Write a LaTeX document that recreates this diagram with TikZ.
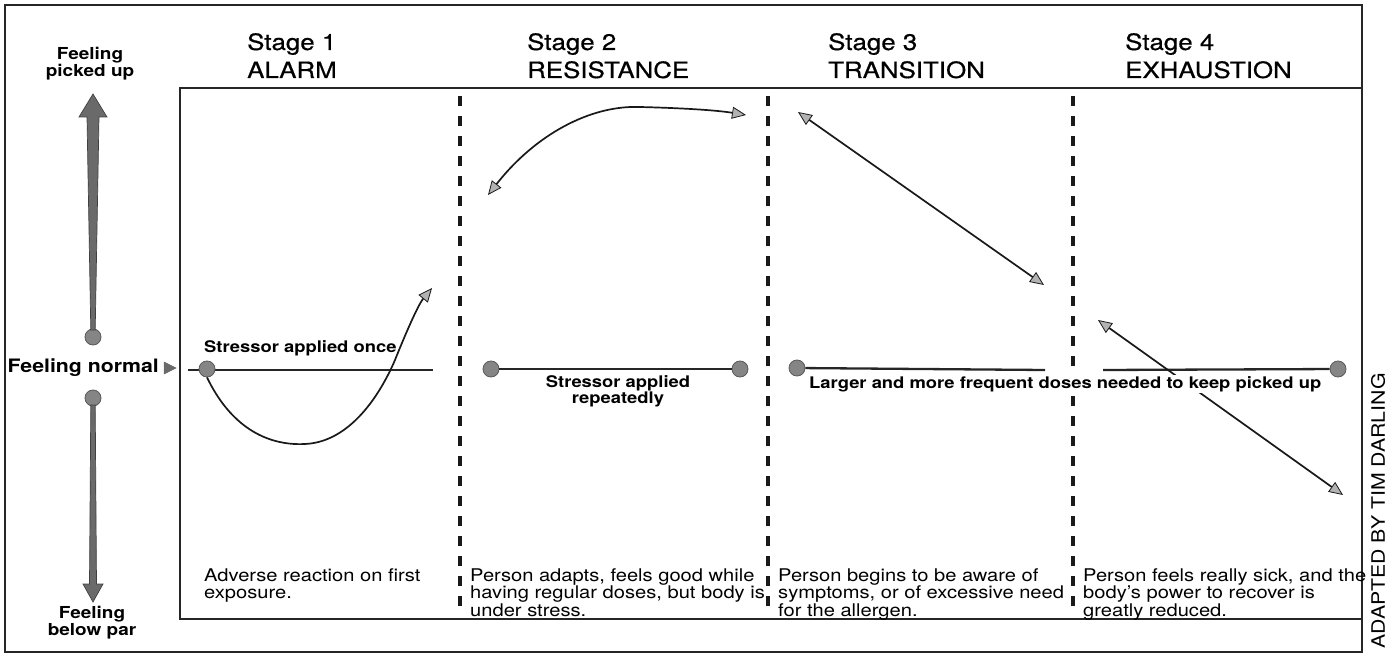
\documentclass[tikz,border=0pt]{standalone}
\usepackage{fontspec}
\setmainfont{TeX Gyre Heros}[FakeStretch=1.15]
\newfontfamily\headfont{TeX Gyre Heros}[FakeStretch=1.15,FakeBold=0.6]
\usetikzlibrary{arrows.meta}
\definecolor{dotgray}{HTML}{858585}
\definecolor{axgray}{HTML}{6A6A6A}
\begin{document}
\begin{tikzpicture}[x=1pt,y=-1pt,
  frame/.style={line width=1.8pt, draw=black!85},
  sep/.style={line width=3.2pt, dash pattern=on 10pt off 10pt, black!90},
  base/.style={line width=2.3pt, black!85},
  dot/.style={circle, fill=dotgray, draw=black!65, line width=0.8pt, minimum size=16pt, inner sep=0pt},
  tip/.tip={Triangle[length=14pt,width=12pt,fill=gray!60,line width=0.8pt]},
  curve/.style={line width=1.7pt, black!90},
  head/.style={font=\headfont\fontsize{22.5}{26}\selectfont, anchor=base west, inner sep=0pt},
  lab/.style={font=\bfseries\fontsize{16}{18}\selectfont, inner sep=1pt},
  desc/.style={font=\fontsize{17.5}{17.8}\selectfont, anchor=north west, align=left, inner sep=0pt}
]
\useasboundingbox (0,0) rectangle (1390,655);
% frames
\draw[frame] (5,5) rectangle (1362,652);
\draw[frame] (180,88) rectangle (1362,619);
% separators
\foreach \x/\n in {460/a,768/b,1073/c}{
  \coordinate (sep\n t) at (\x,96);
  \coordinate (sep\n b) at (\x,616);
  \draw[sep] (sep\n t) -- (sep\n b);
}
% headers
\node[head] (h1a) at (247,50) {Stage 1};
\node[head] (h1b) at (247,78) {ALARM};
\node[head] (h2a) at (527,50) {Stage 2};
\node[head] (h2b) at (527,78) {RESISTANCE};
\node[head] (h3a) at (828,50) {Stage 3};
\node[head] (h3b) at (828,78) {TRANSITION};
\node[head] (h4a) at (1125,50) {Stage 4};
\node[head] (h4b) at (1125,78) {EXHAUSTION};
% left axis
\node[lab, align=center, font=\bfseries\fontsize{16.5}{18}\selectfont] (up) at (90,64) {Feeling\\[-1pt]picked up};
\node[lab, align=center, font=\bfseries\fontsize{16.5}{18}\selectfont] (down) at (92,623) {Feeling\\[-1pt]below par};
\node[lab, anchor=east, font=\bfseries\fontsize{18.5}{20}\selectfont] (normal) at (160,368) {Feeling normal};
\fill[axgray, draw=black!60, line width=0.5pt] (164,362) -- (176,368) -- (164,374) -- cycle;
\node[dot] (updot) at (93,337) {};
\node[dot] (downdot) at (93,398) {};
\fill[axgray, draw=black!75, line width=0.7pt]
  (90.8,330) -- (87,117) -- (79,117) -- (93,94) -- (107,117) -- (99,117) -- (95.2,330) -- cycle;
\fill[axgray, draw=black!75, line width=0.7pt]
  (90.8,405) -- (89.5,584) -- (83,584) -- (93,602) -- (103,584) -- (96.5,584) -- (95.2,405) -- cycle;
% stage 1
\coordinate (l1a) at (188,370);
\coordinate (l1b) at (433,370);
\draw[base] (l1a) -- (l1b);
\node[dot] (d1) at (207,369) {};
\node[lab, anchor=west] (t1) at (203,348) {Stressor applied once};
\coordinate (c1min) at (305,444);
\coordinate (c1end) at (432,288);
\draw[curve, -tip] (d1.south) .. controls (230,425) and (265,446) .. (c1min)
   .. controls (350,442) and (380,395) .. (395,360) .. controls (405,335) and (418,305) .. (c1end);
% stage 2
\node[dot] (d2a) at (491,369) {};
\node[dot] (d2b) at (740,369) {};
\draw[base] (d2a) -- (d2b);
\node[lab, align=center] (t2) at (618,391) {Stressor applied\\[-2pt]repeatedly};
\coordinate (c2a) at (488,195);
\coordinate (c2p) at (640,107);
\coordinate (c2b) at (746,115);
\draw[curve, tip-tip] (c2a) .. controls (535,135) and (590,105) .. (c2p) .. controls (680,108) and (715,110) .. (c2b);
% stage 3
\node[dot] (d3) at (797,368) {};
\coordinate (l3b) at (1045,370);
\draw[base] (d3) -- (l3b);
\coordinate (c3a) at (798,112);
\coordinate (c3b) at (1044,285);
\draw[curve, tip-tip] (c3a) -- (c3b);
% stage 4
\node[dot] (d4) at (1338,369) {};
\coordinate (l4a) at (1103,370);
\draw[base] (l4a) -- (d4);
\coordinate (c4a) at (1098,320);
\coordinate (c4b) at (1343,495);
\draw[curve, tip-tip] (c4a) -- (c4b);
\node[lab, anchor=west, fill=white] (t3) at (808,384) {Larger and more frequent doses needed to keep picked up};
% descriptions
\node[desc] (e1) at (204,568) {Adverse reaction on first\\exposure.};
\node[desc] (e2) at (470,568) {Person adapts, feels good while\\having regular doses, but body is\\under stress.};
\node[desc] (e3) at (778,568) {Person begins to be aware of\\symptoms, or of excessive need\\for the allergen.};
\node[desc] (e4) at (1083,568) {Person feels really sick, and the\\body’s power to recover is\\greatly reduced.};
% credit
\node[font=\fontsize{18.5}{20}\selectfont, rotate=90, inner sep=0pt] (credit) at (1378,511) {ADAPTED BY TIM DARLING};
\end{tikzpicture}
\end{document}
